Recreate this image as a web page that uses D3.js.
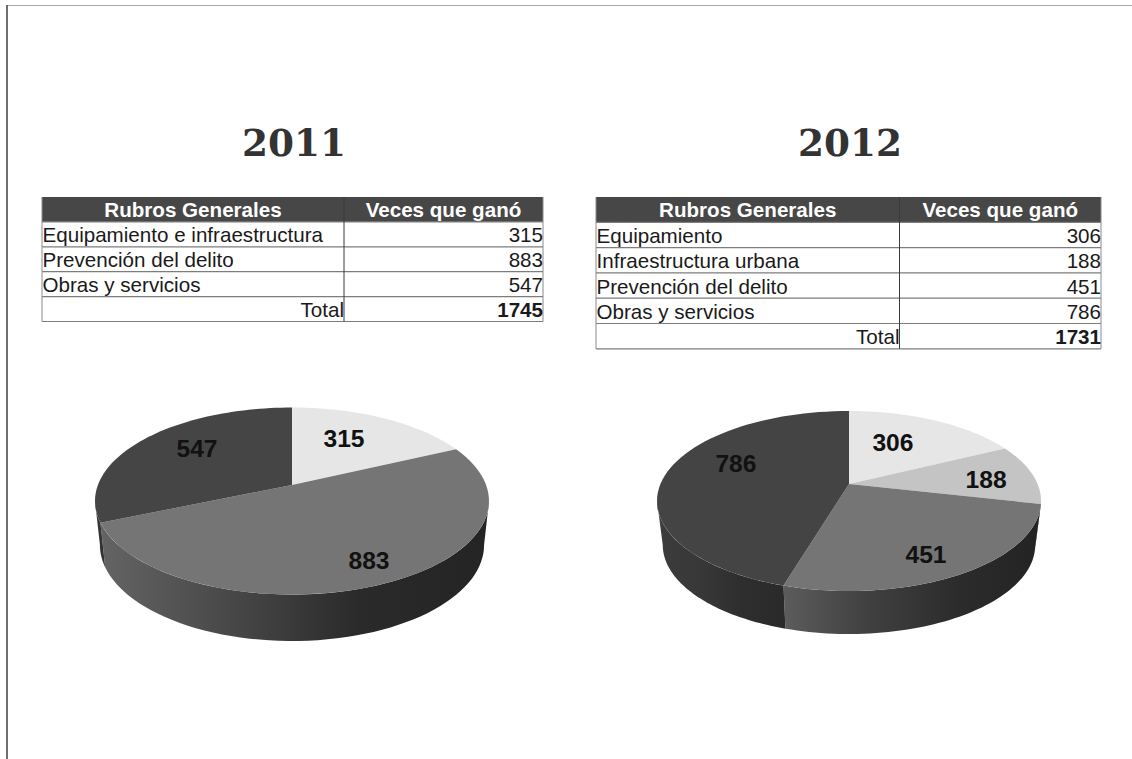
<!DOCTYPE html>
<html lang="es">
<head>
<meta charset="utf-8">
<title>Rubros generales 2011 y 2012</title>
<script src="https://cdn.jsdelivr.net/npm/d3@7/dist/d3.min.js"></script>
<style>
  html, body { margin: 0; padding: 0; background: #fff; }
  svg { display: block; }
  text { font-family: "Liberation Sans", Arial, sans-serif; }
  .titulo { font-family: "DejaVu Serif", serif; font-weight: 700; font-size: 37.4px; fill: #333; text-anchor: middle; }
  .dato { font-weight: 700; font-size: 24.6px; fill: #111; text-anchor: middle; }
  .cab { font-weight: 700; font-size: 20.6px; fill: #fff; text-anchor: middle; }
  .celda { font-size: 20.6px; fill: #1a1a1a; }
  .suma { font-size: 20.6px; font-weight: 700; fill: #1a1a1a; text-anchor: end; }
</style>
</head>
<body>
<script>
// Cifras por año
const encabezados = ["Rubros Generales", "Veces que ganó"];
const rubros2011 = ["Equipamiento e infraestructura", "Prevención del delito", "Obras y servicios"];
const veces2011 = [315, 883, 547];
const rubros2012 = ["Equipamiento", "Infraestructura urbana", "Prevención del delito", "Obras y servicios"];
const veces2012 = [306, 188, 451, 786];
const etiquetaTotal = "Total";

// Tonos de la cara superior y rampas de la pared lateral
const caras2011 = ["#e6e6e6", "#757575", "#454545"];
const caras2012 = ["#e6e6e6", "#c4c4c4", "#757575", "#444444"];
const paredes2011 = [["#2a2a2a", "#242424"], ["#646464", "#484848", "#2a2a2a", "#242424"], ["#3a3a3a", "#333"]];
const paredes2012 = [["#2a2a2a", "#242424"], ["#2a2a2a", "#242424"], ["#5c5c5c", "#404040", "#2c2c2c", "#232323"], ["#3c3c3c", "#383838", "#2e2e2e", "#2a2a2a"]];

// Disposición de cada panel
const panel2011 = {
  anio: "2011", rubros: rubros2011, veces: veces2011, caras: caras2011, paredes: paredes2011,
  tituloX: 294, tituloY: 156,
  tabla: { x0: 42, x1: 344, x2: 543, y0: 197, alto: 24.9 },
  pastel: { cx: 292, cy: 501, rx: 197, ry: 93.5, apice: 485, fondo: 641, mermaX: 0.975, mermaY: 1.027 },
  rotulos: [[0.264, -0.674], [0.391, 0.631], [-0.482, -0.567]]
};
const panel2012 = {
  anio: "2012", rubros: rubros2012, veces: veces2012, caras: caras2012, paredes: paredes2012,
  tituloX: 850, tituloY: 156,
  tabla: { x0: 596, x1: 899.5, x2: 1101, y0: 197, alto: 25.3 },
  pastel: { cx: 849, cy: 501, rx: 192, ry: 90, apice: 484, fondo: 634, mermaX: 0.97, mermaY: 0.99 },
  rotulos: [[0.229, -0.656], [0.714, -0.244], [0.401, 0.589], [-0.589, -0.422]]
};

const svg = d3.select("body").append("svg").attr("width", 1132).attr("height", 759);
const defs = svg.append("defs");

// Marco de la hoja
svg.append("line").attr("x1", 7).attr("x2", 1132).attr("y1", 5.5).attr("y2", 5.5)
  .attr("stroke", "#aaa").attr("stroke-width", 1);
svg.append("line").attr("x1", 7).attr("x2", 7).attr("y1", 5).attr("y2", 759)
  .attr("stroke", "#333").attr("stroke-width", 1.4);

function dibujarTabla(g, p) {
  const t = p.tabla;
  const filas = p.rubros.length + 2;
  const y = d3.scaleLinear().domain([0, filas]).range([t.y0, t.y0 + filas * t.alto]);
  const total = d3.sum(p.veces);

  g.append("rect").attr("x", t.x0).attr("y", y(0)).attr("width", t.x2 - t.x0).attr("height", t.alto)
    .attr("fill", "#474747");
  g.selectAll("line.h").data(d3.range(1, filas + 1)).join("line").attr("class", "h")
    .attr("x1", t.x0).attr("x2", t.x2).attr("y1", d => y(d)).attr("y2", d => y(d))
    .attr("stroke", "#7d7d7d").attr("stroke-width", 1.2);
  g.selectAll("line.b").data([t.x0, t.x2]).join("line").attr("class", "b")
    .attr("x1", d => d).attr("x2", d => d).attr("y1", y(0)).attr("y2", y(filas))
    .attr("stroke", "#8a8a8a").attr("stroke-width", 1);
  g.append("line").attr("x1", t.x1).attr("x2", t.x1).attr("y1", y(0)).attr("y2", y(filas))
    .attr("stroke", "#3a3a3a").attr("stroke-width", 1);

  g.append("text").attr("class", "cab").attr("x", (t.x0 + t.x1) / 2).attr("y", y(1) - 5).text(encabezados[0]);
  g.append("text").attr("class", "cab").attr("x", (t.x1 + t.x2) / 2).attr("y", y(1) - 5).text(encabezados[1]);

  g.selectAll("text.rubro").data(p.rubros).join("text").attr("class", "celda rubro")
    .attr("x", t.x0 + 0.5).attr("y", (d, i) => y(i + 2) - 4.5).text(d => d);
  g.selectAll("text.vez").data(p.veces).join("text").attr("class", "celda vez")
    .attr("text-anchor", "end").attr("x", t.x2).attr("y", (d, i) => y(i + 2) - 4.5).text(d => d);

  g.append("text").attr("class", "celda").attr("text-anchor", "end")
    .attr("x", t.x1).attr("y", y(filas) - 4.5).text(etiquetaTotal);
  g.append("text").attr("class", "suma").attr("x", t.x2).attr("y", y(filas) - 4.5).text(total);
}

// Proyección en perspectiva del disco unidad sobre una elipse:
// el centro del disco cae en el ápice, por encima del centro de la elipse.
function proyector(e, k) {
  const a = (e.apice - e.cy) / e.ry;
  return (theta, rho = 1) => {
    const u = rho * Math.sin(theta), v = -rho * Math.cos(theta);
    const d = 1 + a * v;
    const px = u * Math.sqrt(1 - a * a) / d, py = (v + a) / d;
    return [k.cx + px * k.rx, k.cy + py * k.ry];
  };
}

function dibujarPastel(g, p, idx) {
  const e = p.pastel;
  const rx2 = e.rx * e.mermaX, ry2 = e.ry * e.mermaY;
  const arriba = proyector(e, e);
  const abajo = proyector(e, { cx: e.cx, cy: e.fondo - ry2, rx: rx2, ry: ry2 });
  const arcos = d3.pie().sort(null).startAngle(0).endAngle(2 * Math.PI)(p.veces);
  const linea = d3.line();
  const muestras = (a0, a1) => d3.range(0, 61).map(i => a0 + (a1 - a0) * i / 60);

  // Pared lateral: sólo el tramo de cada sector por debajo del diámetro mayor
  const desde = Math.acos((e.apice - e.cy) / e.ry), hasta = 2 * Math.PI - desde;
  arcos.forEach((s, i) => {
    const a0 = Math.max(s.startAngle, desde), a1 = Math.min(s.endAngle, hasta);
    if (a1 <= a0) return;
    const rampa = p.paredes[i];
    const gx = d3.scaleLinear().domain([0, rampa.length - 1]).range([0, 100]);
    const id = `pared-${idx}-${i}`;
    const xs = muestras(a0, a1).map(t => arriba(t)[0]);
    const grad = defs.append("linearGradient").attr("id", id).attr("gradientUnits", "userSpaceOnUse")
      .attr("x1", d3.min(xs)).attr("x2", d3.max(xs)).attr("y1", 0).attr("y2", 0);
    grad.selectAll("stop").data(rampa).join("stop")
      .attr("offset", (d, j) => gx(j) + "%").attr("stop-color", d => d);
    const borde = muestras(a0, a1);
    const puntos = borde.map(t => arriba(t)).concat(borde.slice().reverse().map(t => abajo(t)));
    g.append("path").attr("d", linea(puntos) + "Z").attr("fill", `url(#${id})`);
  });

  // Cara superior
  const apice = arriba(0, 0);
  g.selectAll("path.cara").data(arcos).join("path").attr("class", "cara")
    .attr("d", s => linea([apice].concat(muestras(s.startAngle, s.endAngle).map(t => arriba(t)))) + "Z")
    .attr("fill", (s, i) => p.caras[i]);

  // Valores sobre cada sector
  g.selectAll("text.dato").data(p.veces).join("text").attr("class", "dato")
    .attr("x", (d, i) => e.cx + p.rotulos[i][0] * e.rx)
    .attr("y", (d, i) => e.cy + p.rotulos[i][1] * e.ry)
    .attr("dy", "0.36em").text(d => d);
}

[panel2011, panel2012].forEach((p, idx) => {
  const g = svg.append("g");
  g.append("text").attr("class", "titulo").attr("x", p.tituloX).attr("y", p.tituloY).text(p.anio);
  dibujarTabla(g.append("g"), p);
  dibujarPastel(g.append("g"), p, idx);
});
</script>
</body>
</html>
